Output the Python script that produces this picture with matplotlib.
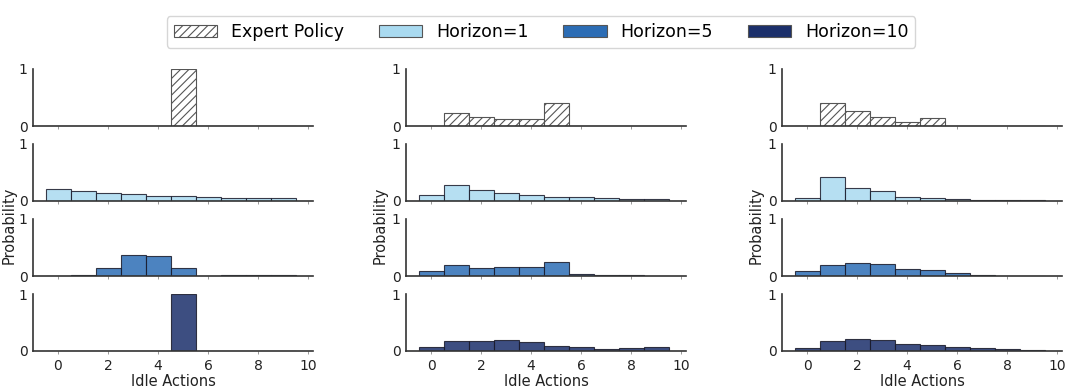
import matplotlib
matplotlib.use('Agg')
import matplotlib.pyplot as plt
import numpy as np
from matplotlib.patches import Patch

plt.rc('font', family='DejaVu Sans')
plt.rc('hatch', color='#555555', linewidth=0.8)

# idle actions 0..9
actions = np.arange(10)

# one column per scenario: expert, horizon 1, horizon 5, horizon 10
expert_a = [0, 0, 0, 0, 0, 1.0, 0, 0, 0, 0]
h1_a = [0.21, 0.18, 0.14, 0.125, 0.095, 0.095, 0.07, 0.06, 0.048, 0.06]
h5_a = [0.0, 0.015, 0.14, 0.375, 0.35, 0.14, 0.0, 0.01, 0.01, 0.02]
h10_a = [0, 0, 0, 0, 0, 1.0, 0, 0, 0, 0]

expert_b = [0, 0.225, 0.15, 0.13, 0.13, 0.41, 0, 0, 0, 0]
h1_b = [0.10, 0.28, 0.19, 0.14, 0.10, 0.077, 0.07, 0.053, 0.036, 0.036]
h5_b = [0.09, 0.185, 0.14, 0.16, 0.16, 0.24, 0.036, 0.012, 0.012, 0.006]
h10_b = [0.07, 0.17, 0.18, 0.19, 0.155, 0.083, 0.077, 0.036, 0.047, 0.065]

expert_c = [0, 0.40, 0.255, 0.16, 0.077, 0.136, 0, 0, 0, 0]
h1_c = [0.048, 0.415, 0.23, 0.167, 0.07, 0.048, 0.03, 0.012, 0.012, 0.012]
h5_c = [0.09, 0.19, 0.23, 0.215, 0.13, 0.10, 0.054, 0.024, 0.006, 0.006]
h10_c = [0.047, 0.18, 0.21, 0.20, 0.13, 0.107, 0.07, 0.06, 0.03, 0.024]

columns = [
    [expert_a, h1_a, h5_a, h10_a],
    [expert_b, h1_b, h5_b, h10_b],
    [expert_c, h1_c, h5_c, h10_c],
]

labels = ['Expert Policy', 'Horizon=1', 'Horizon=5', 'Horizon=10']
colors = ['white', '#a9daf0', '#2c6db5', '#1b2f6b']
bar_alpha = 0.85

W, H = 1080, 391
fig = plt.figure(figsize=(W / 100, H / 100), dpi=100)

col_left = [33, 406, 782]
col_width = 280
row_top = [69, 144, 219, 294]
row_height = 57
ylab_x = [9, 380, 756]

for c, col in enumerate(columns):
    for r, vals in enumerate(col):
        ax = fig.add_axes([col_left[c] / W, 1 - (row_top[r] + row_height) / H,
                           col_width / W, row_height / H])
        if r == 0:
            ax.bar(actions, vals, width=1.0, color='white', edgecolor='#555555',
                   hatch='////', linewidth=0.8)
        else:
            ax.bar(actions, vals, width=1.0, color=colors[r], alpha=bar_alpha,
                   edgecolor='#1a1a2a', linewidth=0.8)
        ax.set_xlim(-1, 10.2)
        ax.set_ylim(0, 1)
        ax.set_yticks([0, 1])
        ax.set_xticks([0, 2, 4, 6, 8, 10])
        for s in ['top', 'right']:
            ax.spines[s].set_visible(False)
        for s in ['left', 'bottom']:
            ax.spines[s].set_color('#333333')
            ax.spines[s].set_linewidth(1.2)
        ax.tick_params(axis='y', length=0, pad=4, labelsize=10, colors='#222222')
        ax.tick_params(axis='x', length=2.5, width=0.6, color='#888888',
                       pad=3, labelsize=10, labelcolor='#222222')
        if r < 3:
            ax.tick_params(axis='x', labelbottom=False)
        else:
            ax.set_xlabel('Idle Actions', fontsize=10.5, labelpad=1, color='#222222')
    fig.text(ylab_x[c] / W, 1 - 225 / H, 'Probability', rotation=90,
             ha='center', va='center', fontsize=10.5, color='#222222')

handles = [
    Patch(facecolor='white', edgecolor='#555555', hatch='////', linewidth=0.8),
    Patch(facecolor=colors[1], edgecolor='#555555', linewidth=0.8),
    Patch(facecolor=colors[2], edgecolor='#555555', linewidth=0.8),
    Patch(facecolor=colors[3], edgecolor='#555555', linewidth=0.8),
]
leg = fig.legend(handles, labels, loc='center', bbox_to_anchor=(541 / W, 1 - 32 / H),
                 ncol=4, fontsize=12.5, handlelength=2.5, handleheight=0.75,
                 columnspacing=2.0, handletextpad=0.8, frameon=True, fancybox=True)
leg.get_frame().set_edgecolor('#cccccc')

fig.savefig('out.png', dpi=100)
